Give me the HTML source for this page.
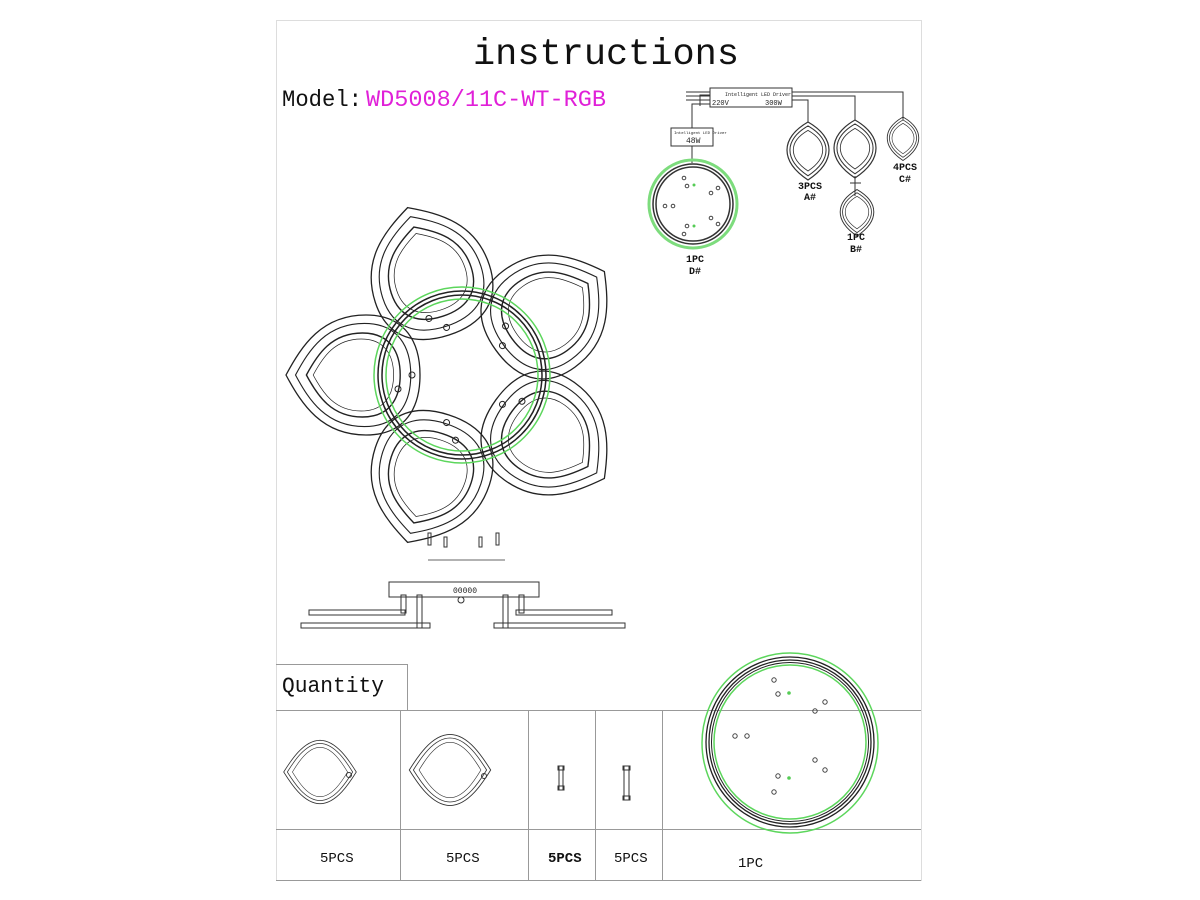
<!DOCTYPE html>
<html><head><meta charset="utf-8"><style>
body{margin:0;background:#fff;}
svg{display:block}
text{font-family:"Liberation Mono","Liberation Serif",monospace;}
</style></head><body>
<svg width="1200" height="900" viewBox="0 0 1200 900" xmlns="http://www.w3.org/2000/svg">
<defs>
<path id="pp" d="M68,0 C52,-30 32,-60 -12,-60 C-52,-60 -66,-32 -66,0 C-66,32 -52,60 -12,60 C32,60 52,30 68,0 Z"/>
<g id="petal" fill="none" stroke="#222">
 <use href="#pp" stroke-width="1.3"/>
 <use href="#pp" stroke-width="1.3" transform="scale(0.86)"/>
 <use href="#pp" stroke-width="2" transform="scale(0.7)"/>
 <use href="#pp" stroke-width="1.2" transform="scale(0.6)"/>
 <circle cx="-58" cy="0" r="3" stroke-width="1"/>
 <circle cx="-44" cy="-14" r="3" stroke-width="1"/>
</g>
<path id="lp" d="M0,-28 C14,-20 21,-10 21,0 C21,12 12,22 0,30 C-12,22 -21,12 -21,0 C-21,-10 -14,-20 0,-28 Z"/>
<g id="leaf" fill="none" stroke="#333">
 <use href="#lp" stroke-width="1.2"/>
 <use href="#lp" stroke-width="1.2" transform="scale(0.86)"/>
 <use href="#lp" stroke-width="1.2" transform="scale(0.7)"/>
</g>
<path id="qp" d="M-55,0 C-45,-16 -25,-48 0,-48 C25,-48 45,-16 55,0 C45,16 25,48 0,48 C-25,48 -45,16 -55,0 Z"/>
<g id="qleaf" fill="none" stroke="#333" stroke-width="1.2">
 <use href="#qp"/>
 <use href="#qp" transform="scale(0.9)"/>
 <use href="#qp" transform="scale(0.76,0.78)"/>
</g>
</defs>
<rect x="276.5" y="20.5" width="645" height="860" fill="#fff" stroke="#ddd" stroke-width="1"/>
<text x="473" y="64" font-size="37" textLength="266" lengthAdjust="spacingAndGlyphs" fill="#111">instructions</text>
<text x="282" y="106" font-size="23" textLength="80" lengthAdjust="spacingAndGlyphs" fill="#111">Model:</text>
<text x="366" y="106" font-size="23" textLength="240" lengthAdjust="spacingAndGlyphs" fill="#e020d8">WD5008/11C-WT-RGB</text>

<!-- wiring -->
<g fill="none" stroke="#333" stroke-width="1">
 <path d="M686,92H710 M686,96H710 M686,100H710"/>
 <rect x="710" y="88" width="82" height="19"/>
 <path d="M792,92H903V120 M792,96H855V120 M792,100H808V122"/>
 <path d="M710,104H692V128 M700,106V95H710"/>
 <rect x="671" y="128" width="42" height="18"/>
 <path d="M692,146V163"/>
 <path d="M855,176V188 M850,183H861 M855,188V196"/>
</g>
<text x="725" y="96" font-size="5" fill="#222">Intelligent LED Driver</text>
<text x="712" y="105" font-size="7" fill="#222">220V</text>
<text x="765" y="105" font-size="7" fill="#222">300W</text>
<text x="674" y="134" font-size="4" fill="#222">Intelligent LED Driver</text>
<text x="686" y="143" font-size="8" fill="#222">48W</text>
<circle cx="693" cy="204" r="44" fill="none" stroke="#7ddc7d" stroke-width="3"/>
<circle cx="693" cy="204" r="40" fill="none" stroke="#333" stroke-width="1.5"/>
<circle cx="693" cy="204" r="37" fill="none" stroke="#333" stroke-width="1.5"/>
<g fill="none" stroke="#444" stroke-width="1"><circle cx="684" cy="178" r="1.8"/><circle cx="687" cy="186" r="1.8"/><circle cx="711" cy="193" r="1.8"/><circle cx="718" cy="188" r="1.8"/><circle cx="665" cy="206" r="1.8"/><circle cx="673" cy="206" r="1.8"/><circle cx="711" cy="218" r="1.8"/><circle cx="718" cy="224" r="1.8"/><circle cx="687" cy="226" r="1.8"/><circle cx="684" cy="234" r="1.8"/></g>
<circle cx="694" cy="185" r="1.5" fill="#5c5"/><circle cx="694" cy="226" r="1.5" fill="#5c5"/>
<use href="#leaf" x="808" y="150"/>
<use href="#leaf" x="855" y="148"/>
<use href="#leaf" transform="translate(857,212) scale(0.8)"/>
<use href="#leaf" transform="translate(903,138) scale(0.75)"/>
<g font-size="10" fill="#111" text-anchor="middle" font-weight="bold">
<text x="810" y="189" font-family="Liberation Serif">3PCS</text><text x="810" y="200" font-family="Liberation Serif">A#</text>
<text x="856" y="240" font-family="Liberation Serif">1PC</text><text x="856" y="252" font-family="Liberation Serif">B#</text>
<text x="905" y="170" font-family="Liberation Serif">4PCS</text><text x="905" y="182" font-family="Liberation Serif">C#</text>
<text x="695" y="262" font-family="Liberation Serif">1PC</text><text x="695" y="274" font-family="Liberation Serif">D#</text>
</g>

<!-- flower -->
<g transform="translate(462,375)">
 <use href="#petal" transform="rotate(180) translate(108,0)"/>
 <use href="#petal" transform="rotate(108) translate(108,0)"/>
 <use href="#petal" transform="rotate(36) translate(108,0)"/>
 <use href="#petal" transform="rotate(-36) translate(108,0)"/>
 <use href="#petal" transform="rotate(-108) translate(108,0)"/>
</g>
<circle cx="462" cy="375" r="88" fill="none" stroke="#5cd65c" stroke-width="1.5"/>
<circle cx="462" cy="375" r="76" fill="none" stroke="#5cd65c" stroke-width="1.5"/>
<circle cx="462" cy="375" r="84" fill="none" stroke="#222" stroke-width="1.5"/>
<circle cx="462" cy="375" r="80" fill="none" stroke="#222" stroke-width="1.5"/>

<!-- side view -->
<g fill="none" stroke="#333" stroke-width="1">
 <path d="M428,560H505" stroke="#666"/>
 <rect x="428" y="533" width="3" height="12"/><rect x="444" y="537" width="3" height="10"/><rect x="479" y="537" width="3" height="10"/><rect x="496" y="533" width="3" height="12"/>
 <rect x="389" y="582" width="150" height="15"/>
 <rect x="401" y="595" width="5" height="18"/><rect x="417" y="595" width="5" height="33"/>
 <rect x="503" y="595" width="5" height="33"/><rect x="519" y="595" width="5" height="18"/>
 <rect x="309" y="610" width="96" height="5"/><rect x="301" y="623" width="129" height="5"/>
 <rect x="516" y="610" width="96" height="5"/><rect x="494" y="623" width="131" height="5"/>
 <circle cx="461" cy="600" r="3"/>
</g>
<text x="453" y="593" font-size="8" fill="#222">00000</text>

<!-- quantity table -->
<g stroke="#999" stroke-width="1" fill="none">
 <path d="M276,664.5H407.5V710"/>
 <path d="M276,710.5H921 M276,829.5H921 M276,880.5H921"/>
 <path d="M400.5,710V880 M528.5,710V880 M595.5,710V880 M662.5,710V880"/>
</g>
<text x="282" y="692" font-size="22" textLength="102" lengthAdjust="spacingAndGlyphs" fill="#111">Quantity</text>
<use href="#qleaf" transform="translate(320,772) scale(0.66)"/>
<circle cx="349" cy="775" r="2.5" fill="none" stroke="#333"/>
<use href="#qleaf" transform="translate(450,770) scale(0.74)"/>
<circle cx="484" cy="776" r="2.5" fill="none" stroke="#333"/>
<g fill="none" stroke="#333" stroke-width="1">
 <rect x="559" y="766" width="4" height="24"/><rect x="558" y="766" width="6" height="4"/><rect x="558" y="786" width="6" height="4"/>
 <rect x="624" y="766" width="5" height="34"/><rect x="623" y="766" width="7" height="4"/><rect x="623" y="796" width="7" height="4"/>
</g>
<g font-size="14" fill="#111">
<text x="320" y="862" font-family="Liberation Serif">5PCS</text>
<text x="446" y="862" font-family="Liberation Serif">5PCS</text>
<text x="548" y="862" font-family="Liberation Serif" font-weight="bold">5PCS</text>
<text x="614" y="862" font-family="Liberation Serif">5PCS</text>
<text x="738" y="867" font-family="Liberation Serif">1PC</text>
</g>
<ellipse cx="790" cy="743" rx="88" ry="90" fill="none" stroke="#5cd65c" stroke-width="1.5"/>
<ellipse cx="790" cy="742" rx="76" ry="77" fill="none" stroke="#5cd65c" stroke-width="1.5"/>
<ellipse cx="790" cy="742" rx="84" ry="85" fill="none" stroke="#222" stroke-width="1.3"/>
<ellipse cx="790" cy="742" rx="81" ry="82" fill="none" stroke="#222" stroke-width="1.3"/>
<ellipse cx="790" cy="742" rx="78.5" ry="79.5" fill="none" stroke="#222" stroke-width="1"/>
<g fill="none" stroke="#444" stroke-width="1"><circle cx="774" cy="680" r="2.2"/><circle cx="778" cy="694" r="2.2"/><circle cx="825" cy="702" r="2.2"/><circle cx="815" cy="711" r="2.2"/><circle cx="735" cy="736" r="2.2"/><circle cx="747" cy="736" r="2.2"/><circle cx="815" cy="760" r="2.2"/><circle cx="825" cy="770" r="2.2"/><circle cx="778" cy="776" r="2.2"/><circle cx="774" cy="792" r="2.2"/></g>
<circle cx="789" cy="693" r="1.8" fill="#5c5"/><circle cx="789" cy="778" r="1.8" fill="#5c5"/>
</svg>
</body></html>
